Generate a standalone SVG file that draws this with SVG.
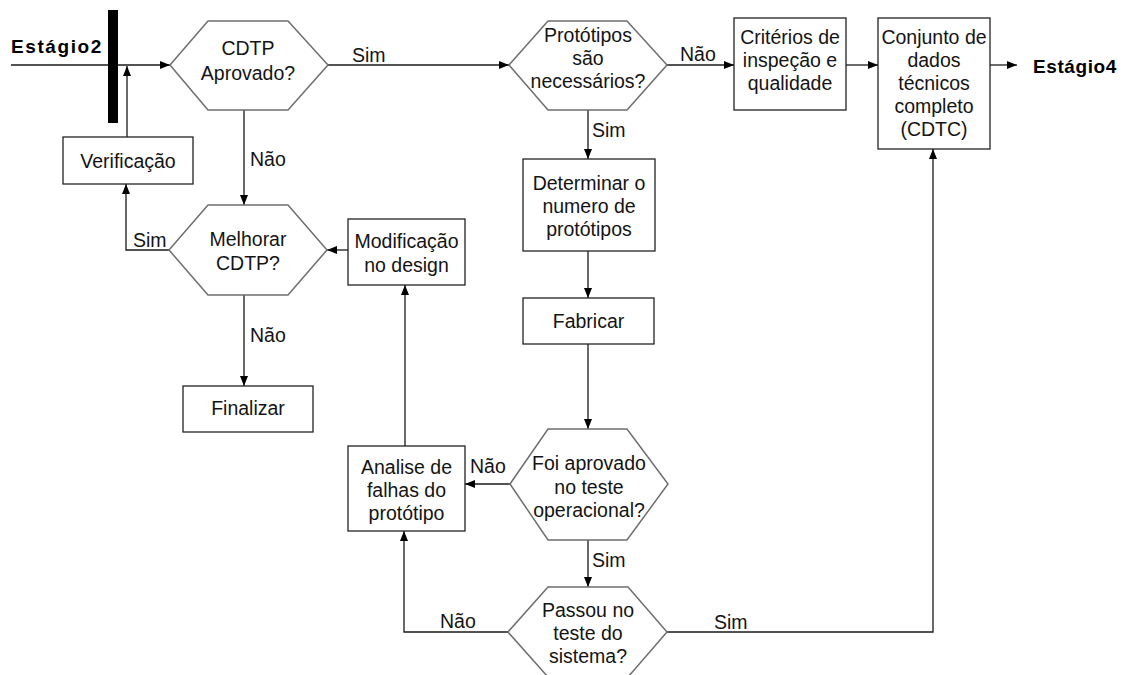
<svg xmlns="http://www.w3.org/2000/svg" width="1134" height="675" viewBox="0 0 1134 675">
  <style>
    text { font-family: "Liberation Sans", Arial, sans-serif; font-size: 19.5px; fill: #141414; }
    .c { text-anchor: middle; }
    .stage { font-weight: bold; fill: #000; font-size: 19px; }
    .box { fill: #fff; stroke: #222; stroke-width: 1.3; }
    .hex { fill: #fff; stroke: #6e6e6e; stroke-width: 1.5; }
    .link { fill: none; stroke: #1a1a1a; stroke-width: 1.3; }
  </style>
  <defs>
    <marker id="arrow" markerUnits="userSpaceOnUse" markerWidth="10" markerHeight="8" refX="10" refY="4" orient="auto">
      <path d="M0,0 L10,4 L0,8 z" fill="#000"/>
    </marker>
  </defs>
  <rect width="1134" height="675" fill="#fff"/>

  <!-- connectors -->
  <g id="connectors">
    <path class="link" d="M11,65 H170" marker-end="url(#arrow)"/>
    <path class="link" d="M127,137 V66" marker-end="url(#arrow)"/>
    <path class="link" d="M328,65 H509" marker-end="url(#arrow)"/>
    <path class="link" d="M667,65 H734" marker-end="url(#arrow)"/>
    <path class="link" d="M846,65 H878" marker-end="url(#arrow)"/>
    <path class="link" d="M990,65 H1017" marker-end="url(#arrow)"/>
    <path class="link" d="M244,110 V205" marker-end="url(#arrow)"/>
    <path class="link" d="M588,110 V159" marker-end="url(#arrow)"/>
    <path class="link" d="M588,251 V298" marker-end="url(#arrow)"/>
    <path class="link" d="M588,344 V429" marker-end="url(#arrow)"/>
    <path class="link" d="M510,484 H465" marker-end="url(#arrow)"/>
    <path class="link" d="M588,540 V587" marker-end="url(#arrow)"/>
    <path class="link" d="M508,632 H404 V531" marker-end="url(#arrow)"/>
    <path class="link" d="M667,632 H933 V149" marker-end="url(#arrow)"/>
    <path class="link" d="M405,446 V285" marker-end="url(#arrow)"/>
    <path class="link" d="M348,250 H327" marker-end="url(#arrow)"/>
    <path class="link" d="M169,250 H126 V184" marker-end="url(#arrow)"/>
    <path class="link" d="M244,295 V386" marker-end="url(#arrow)"/>
  </g>

  <!-- connector labels -->
  <g id="labels">
    <text x="352" y="62">Sim</text>
    <text x="680" y="61">Não</text>
    <text x="250" y="166">Não</text>
    <text x="592" y="137">Sim</text>
    <text x="470" y="473">Não</text>
    <text x="592" y="567">Sim</text>
    <text x="440" y="628">Não</text>
    <text x="714" y="629">Sim</text>
    <text x="133" y="247">Sim</text>
    <text x="250" y="342">Não</text>
  </g>

  <!-- stage markers -->
  <g id="stage2">
    <text class="stage" x="11" y="53" letter-spacing="1.6">Estágio2</text>
    <rect x="108" y="10" width="10" height="113" fill="#000"/>
  </g>
  <g id="stage4">
    <text class="stage" x="1033" y="73" letter-spacing="0.6">Estágio4</text>
  </g>

  <!-- nodes -->
  <g id="cdtp-aprovado">
    <polygon class="hex" points="170,65 208,21 288,21 328,65 288,110 208,110"/>
    <text class="c" x="248" y="55">CDTP</text>
    <text class="c" x="248" y="80">Aprovado?</text>
  </g>
  <g id="verificacao">
    <rect class="box" x="63" y="137" width="130" height="47"/>
    <text class="c" x="128" y="168">Verificação</text>
  </g>
  <g id="melhorar-cdtp">
    <polygon class="hex" points="169,250 208,205 288,205 327,250 288,295 208,295"/>
    <text class="c" x="248" y="246">Melhorar</text>
    <text class="c" x="248" y="270">CDTP?</text>
  </g>
  <g id="finalizar">
    <rect class="box" x="183" y="386" width="130" height="46"/>
    <text class="c" x="248" y="415">Finalizar</text>
  </g>
  <g id="modificacao">
    <rect class="box" x="348" y="219" width="117" height="66"/>
    <text class="c" x="406.5" y="248">Modificação</text>
    <text class="c" x="406.5" y="272">no design</text>
  </g>
  <g id="prototipos-necessarios">
    <polygon class="hex" points="509,65 548,21 627,21 667,65 627,110 548,110"/>
    <text class="c" x="588" y="42">Protótipos</text>
    <text class="c" x="588" y="65">são</text>
    <text class="c" x="588" y="88">necessários?</text>
  </g>
  <g id="criterios">
    <rect class="box" x="734" y="18" width="112" height="92"/>
    <text class="c" x="790" y="44">Critérios de</text>
    <text class="c" x="790" y="67">inspeção e</text>
    <text class="c" x="790" y="90">qualidade</text>
  </g>
  <g id="cdtc">
    <rect class="box" x="878" y="18" width="112" height="131"/>
    <text class="c" x="934" y="44">Conjunto de</text>
    <text class="c" x="934" y="67">dados</text>
    <text class="c" x="934" y="90">técnicos</text>
    <text class="c" x="934" y="113">completo</text>
    <text class="c" x="934" y="136">(CDTC)</text>
  </g>
  <g id="determinar">
    <rect class="box" x="523" y="159" width="132" height="92"/>
    <text class="c" x="589" y="190">Determinar o</text>
    <text class="c" x="589" y="213">numero de</text>
    <text class="c" x="589" y="236">protótipos</text>
  </g>
  <g id="fabricar">
    <rect class="box" x="523" y="298" width="131" height="46"/>
    <text class="c" x="588.5" y="328">Fabricar</text>
  </g>
  <g id="teste-operacional">
    <polygon class="hex" points="510,484 548,429 627,429 668,484 627,540 548,540"/>
    <text class="c" x="589" y="470">Foi aprovado</text>
    <text class="c" x="589" y="494">no teste</text>
    <text class="c" x="589" y="517">operacional?</text>
  </g>
  <g id="analise-falhas">
    <rect class="box" x="348" y="446" width="117" height="85"/>
    <text class="c" x="406.5" y="474">Analise de</text>
    <text class="c" x="406.5" y="497">falhas do</text>
    <text class="c" x="406.5" y="520">protótipo</text>
  </g>
  <g id="teste-sistema">
    <polygon class="hex" points="508,632 548,587 628,587 667,632 628,677 548,677"/>
    <text class="c" x="588" y="617">Passou no</text>
    <text class="c" x="588" y="640">teste do</text>
    <text class="c" x="588" y="663">sistema?</text>
  </g>
</svg>
